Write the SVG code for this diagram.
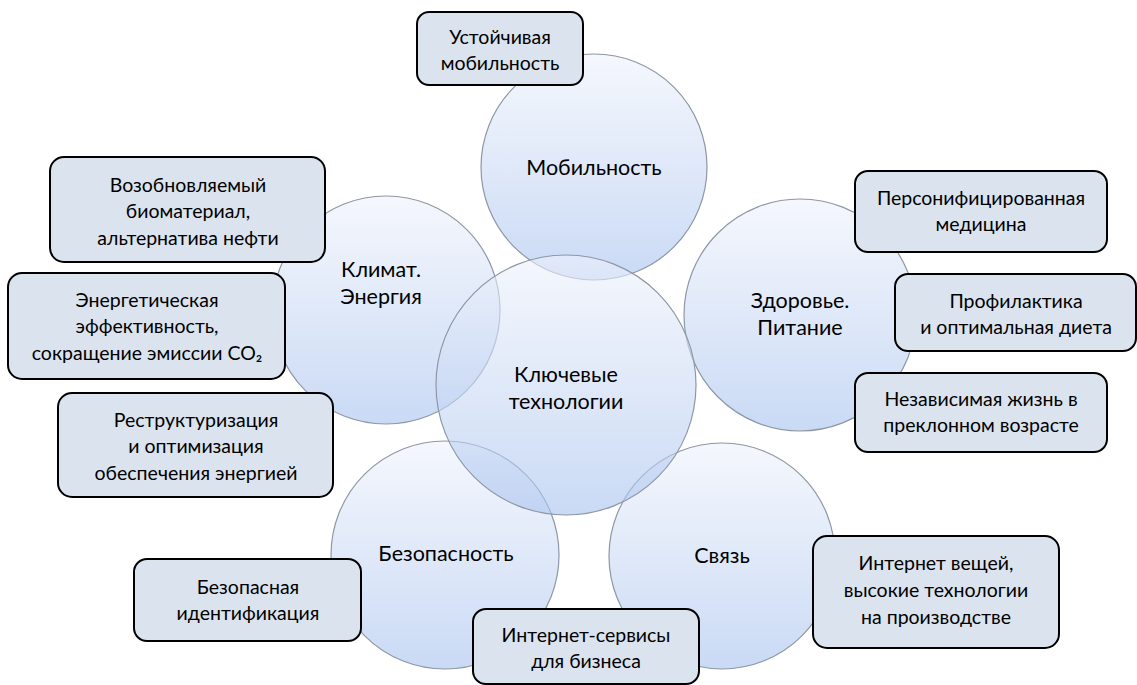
<svg xmlns="http://www.w3.org/2000/svg" width="1137" height="685" viewBox="0 0 1137 685">
<defs>
<linearGradient id="cg" x1="0" y1="0" x2="0" y2="1">
<stop offset="0" stop-color="#eef2fb" stop-opacity="0.6"/>
<stop offset="1" stop-color="#a9c3ef" stop-opacity="0.62"/>
</linearGradient>
<style>
.c{fill:url(#cg);stroke:#8e97a4;stroke-width:1.2}
.b{fill:#dbe3ee;stroke:#000;stroke-width:2}
text{font-family:Lato,"Open Sans","Liberation Sans",sans-serif;fill:#000;text-anchor:middle}
.t{font-size:19.5px}
.ct{font-size:21.5px}
</style>
</defs>
<rect width="1137" height="685" fill="#fff"/>
<g id="circles">
<g id="c-mob"><circle class="c" cx="594" cy="167" r="113"/><text class="ct" x="594" y="175">Мобильность</text></g>
<g id="c-clim"><circle class="c" cx="386" cy="310" r="114"/><text class="ct" x="381" y="277">Климат.</text><text class="ct" x="381" y="304">Энергия</text></g>
<g id="c-health"><circle class="c" cx="800" cy="315" r="116"/><text class="ct" x="800" y="308">Здоровье.</text><text class="ct" x="800" y="335">Питание</text></g>
<g id="c-sec"><circle class="c" cx="445" cy="555" r="114"/><text class="ct" x="446" y="561">Безопасность</text></g>
<g id="c-com"><circle class="c" cx="722" cy="556" r="113"/><text class="ct" x="722" y="563">Связь</text></g>
<g id="c-key"><circle class="c" cx="566" cy="385" r="130"/><text class="ct" x="566" y="382">Ключевые</text><text class="ct" x="566" y="409">технологии</text></g>
</g>
<g id="connectors"></g>
<g id="n1"><rect class="b" x="417" y="12" width="166" height="73" rx="12"/><text class="t" x="500" y="44">Устойчивая</text><text class="t" x="500" y="70">мобильность</text></g>
<g id="n2"><rect class="b" x="50" y="157" width="275" height="105" rx="14"/><text class="t" x="188" y="192">Возобновляемый</text><text class="t" x="188" y="218">биоматериал,</text><text class="t" x="188" y="245">альтернатива нефти</text></g>
<g id="n3"><rect class="b" x="8" y="273" width="277" height="106" rx="14"/><text class="t" x="147" y="307">Энергетическая</text><text class="t" x="147" y="333">эффективность,</text><text class="t" x="147" y="360">сокращение эмиссии CO₂</text></g>
<g id="n4"><rect class="b" x="58" y="393" width="275" height="104" rx="14"/><text class="t" x="196" y="427">Реструктуризация</text><text class="t" x="196" y="453">и оптимизация</text><text class="t" x="196" y="480">обеспечения энергией</text></g>
<g id="n5"><rect class="b" x="855" y="171" width="252" height="81" rx="13"/><text class="t" x="981" y="205">Персонифицированная</text><text class="t" x="981" y="231">медицина</text></g>
<g id="n6"><rect class="b" x="895" y="274" width="241" height="77" rx="13"/><text class="t" x="1016" y="308">Профилактика</text><text class="t" x="1016" y="334">и оптимальная диета</text></g>
<g id="n7"><rect class="b" x="855" y="373" width="252" height="79" rx="13"/><text class="t" x="981" y="406">Независимая жизнь в</text><text class="t" x="981" y="432">преклонном возрасте</text></g>
<g id="n8"><rect class="b" x="134" y="559" width="227" height="82" rx="13"/><text class="t" x="248" y="594">Безопасная</text><text class="t" x="248" y="620">идентификация</text></g>
<g id="n9"><rect class="b" x="473" y="609" width="226" height="75" rx="13"/><text class="t" x="586" y="642">Интернет-сервисы</text><text class="t" x="586" y="668">для бизнеса</text></g>
<g id="n10"><rect class="b" x="813" y="536" width="246" height="112" rx="14"/><text class="t" x="936" y="570">Интернет вещей,</text><text class="t" x="936" y="597">высокие технологии</text><text class="t" x="936" y="624">на производстве</text></g>
</svg>
